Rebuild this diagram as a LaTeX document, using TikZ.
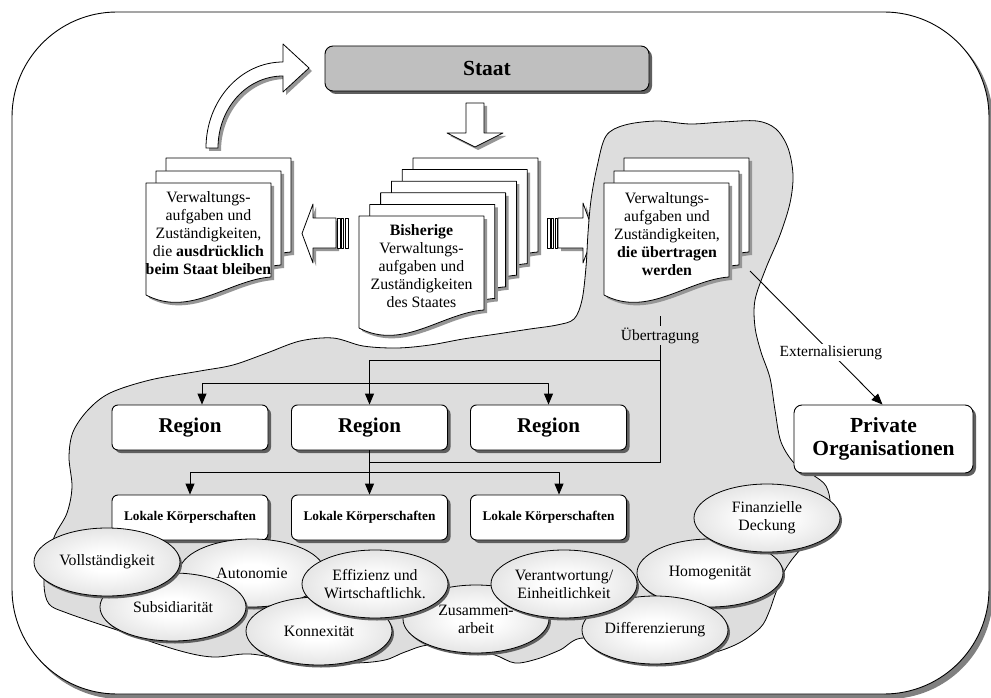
\documentclass[tikz,border=0pt]{standalone}
\usepackage{fontspec}
\setmainfont{Liberation Serif}
\usetikzlibrary{shapes.geometric,shadows,arrows.meta}

\definecolor{cloudgray}{RGB}{221,221,221}
\definecolor{staatgray}{RGB}{191,191,191}
\definecolor{shadowdark}{RGB}{95,95,95}
\definecolor{shadowmid}{RGB}{128,128,128}
\definecolor{shadowlight}{RGB}{150,150,150}
\definecolor{ellcenter}{RGB}{255,255,255}
\definecolor{ellmid}{RGB}{222,222,222}
\definecolor{elledge}{RGB}{162,162,162}
\pgfdeclareradialshading{ellshade}{\pgfpoint{0bp}{0bp}}{color(0bp)=(ellcenter); color(7bp)=(ellcenter); color(30bp)=(ellmid); color(50bp)=(elledge); color(100bp)=(elledge)}

\newcommand\docfont{\fontsize{15.8}{18}\selectfont}
\newcommand\ellfont{\fontsize{15.8}{18}\selectfont}
\newcommand\lblfont{\fontsize{15.5}{18}\selectfont}

% one sheet of a document stack: top-left corner (#1,#2), wavy lower edge
\newcommand\docpath[2]{(#1,#2) -- ++(125,0) -- ++(0,94) .. controls +(-42,3) and +(44,23) .. ++(-125,18) -- cycle}
\newcommand\docpage[2]{%
  \fill[shadowlight] \docpath{#1+3}{#2+3};
  \filldraw[fill=white,draw=black,line width=0.8pt] \docpath{#1}{#2};}

% block arrows
\newcommand\curvedarrowpath{(206,148) .. controls (206,100.5) and (240.5,62) .. (283,62) -- (283,44) -- (309,68) -- (283,92) -- (283,76) .. controls (247,76) and (218,108) .. (218,148) -- cycle}
\newcommand\downarrowpath{(466,103) -- (484,103) -- (484,133) -- (503,133) -- (475,147) -- (447,133) -- (466,133) -- cycle}
\newcommand\leftarrowpath{(336,218) -- (313,218) -- (313,204) -- (302,233.5) -- (313,263) -- (313,248) -- (336,248) -- cycle}
\newcommand\rightarrowpath{(558,218) -- (583,218) -- (583,203) -- (594,233.5) -- (583,263) -- (583,248) -- (558,248) -- cycle}

\tikzset{
  blockarrow/.style={fill=white,draw=black,line width=0.8pt},
  stripe/.style={fill=white,draw=black,line width=0.7pt},
  unitbox/.style={draw,fill=white,rounded corners=6pt,line width=0.9pt,
    minimum width=156pt,minimum height=45pt,inner sep=0pt,align=center,
    drop shadow={shadow xshift=3pt,shadow yshift=-3pt,fill=shadowdark,opacity=1}},
  regionbox/.style={unitbox,font=\fontsize{21}{24}\selectfont\bfseries},
  lkbox/.style={unitbox,font=\fontsize{13.3}{16}\selectfont\bfseries},
  principle/.style={ellipse,draw,line width=0.8pt,shade,shading=ellshade,
    minimum width=146pt,minimum height=68pt,inner sep=0pt,align=center,font=\ellfont,
    drop shadow={shadow xshift=2pt,shadow yshift=-2.5pt,fill=shadowdark,opacity=1}},
  doctext/.style={align=center,font=\docfont,inner sep=0pt},
  conn/.style={line width=0.9pt},
  arr/.style={conn,-{Triangle[width=9pt,length=11pt]}},
}

\begin{document}
\begin{tikzpicture}[x=1pt,y=-1pt,line join=round]
\useasboundingbox (0,0) rectangle (991,698);
\clip (0,0) rectangle (991,698);

% outer frame
\fill[shadowmid,rounded corners=105pt] (16,16) rectangle (993,699);
\filldraw[fill=white,draw=black,line width=0.9pt,rounded corners=105pt] (12,12) rectangle (989,694);

% Staat
\node[draw,fill=staatgray,rounded corners=8pt,line width=0.9pt,minimum width=324pt,minimum height=45pt,
  font=\fontsize{21.5}{24}\selectfont\bfseries,
  drop shadow={shadow xshift=3pt,shadow yshift=-3pt,fill=shadowdark,opacity=1}] (staat) at (487,68.5) {Staat};

% block arrows
\fill[shadowlight,shift={(3,3)}] \curvedarrowpath;
\filldraw[blockarrow] \curvedarrowpath;
\fill[shadowlight,shift={(3,3)}] \downarrowpath;
\filldraw[blockarrow] \downarrowpath;
\fill[shadowlight,shift={(3,3)}] \leftarrowpath;
\filldraw[blockarrow] \leftarrowpath;
\filldraw[stripe] (337.5,218) rectangle (340,248);
\filldraw[stripe] (341.5,218) rectangle (343.5,248);
\filldraw[stripe] (345,218) rectangle (348,248);
\fill[shadowlight,shift={(3,3)}] \rightarrowpath;
\filldraw[blockarrow] \rightarrowpath;
\filldraw[stripe] (547,218) rectangle (550,248);
\filldraw[stripe] (551.5,218) rectangle (553.5,248);
\filldraw[stripe] (555,218) rectangle (557.5,248);

% left stack: tasks that stay with the state
\docpage{166}{158}
\docpage{156}{171}
\docpage{146}{183}
\node[doctext] (bleiben) at (208.5,233) {Verwaltungs-\\aufgaben und\\Zuständigkeiten,\\die \textbf{ausdrücklich}\\\textbf{beim Staat bleiben}};

% middle stack: existing tasks of the state
\docpage{413}{158}
\docpage{402.2}{169.6}
\docpage{391.4}{181.2}
\docpage{380.6}{192.8}
\docpage{369.8}{204.4}
\docpage{359}{216}
\node[doctext] (bisher) at (421.5,266) {\textbf{Bisherige}\\Verwaltungs-\\aufgaben und\\Zuständigkeiten\\des Staates};

% grey area of the transferred competences
\filldraw[fill=cloudgray,draw=black,line width=0.8pt] plot[smooth cycle,tension=0.55] coordinates {
 (606,136) (625,125) (657,121) (690,124) (723,122) (757,121) (776,129) (788,148) (793,175)
 (790,203) (780,235) (766,268) (755,300) (755,327) (761,352) (770,378) (775,410) (781,442)
 (795,464) (813,475) (826,486) (830,505) (822,530) (800,550) (785,570) (775,595) (769,612)
 (760,628) (735,645) (700,655) (640,655) (585,638) (560,650) (537,659) (515,663) (495,655)
 (470,650) (430,645) (405,652) (385,660) (355,663) (300,662) (250,654) (213,657) (177,650)
 (117,630) (67,613) (49,604) (44,585) (47,560) (55,535) (67,513) (72,487) (69,457) (73,432)
 (88,410) (110,393) (150,380) (200,371) (233,365) (267,353) (300,341) (333,338) (363,346)
 (397,348) (430,345) (463,339) (497,334) (530,329) (557,325) (574,319) (582,300) (586,267)
 (588,233) (591,200) (597,167)};

% right stack: tasks that are transferred
\docpage{624}{158}
\docpage{614}{171}
\docpage{604}{183}
\node[doctext] (uebertragen) at (667,234) {Verwaltungs-\\aufgaben und\\Zuständigkeiten,\\\textbf{die übertragen}\\\textbf{werden}};

% regions and local authorities
\node[regionbox] (reg1) at (190,427.5) {Region};
\node[regionbox] (reg2) at (369.5,427.5) {Region};
\node[regionbox] (reg3) at (548.5,427.5) {Region};
\node[lkbox] (lk1) at (190,517.5) {Lokale Körperschaften};
\node[lkbox] (lk2) at (369.5,517.5) {Lokale Körperschaften};
\node[lkbox] (lk3) at (548.5,517.5) {Lokale Körperschaften};

% private organisations
\node[unitbox,rounded corners=8pt,minimum width=179pt,minimum height=68pt,
  font=\fontsize{21.5}{23}\selectfont\bfseries] (po) at (883.5,439) {Private\\Organisationen};

% transfer connectors
\node[font=\lblfont,inner sep=1.5pt,anchor=base] (ueb) at (660,340) {Übertragung};
\coordinate (stub) at (660,316);
\draw[conn] (stub) -- (ueb.north);
\coordinate (j1) at (369.5,360);
\draw[arr] (ueb.south) |- (j1) -- (reg2.north);
\coordinate (j2) at (369.5,383);
\draw[arr] (j2) -| ([xshift=12pt]reg1.north);
\draw[arr] (j2) -| (reg3.north);
\draw[arr] (reg2.south) -- (lk2.north);
\coordinate (j3) at (369.5,462);
\draw[conn] (ueb.south) |- (j3);
\coordinate (j4) at (369.5,472);
\draw[arr] (j4) -| (lk1.north);
\draw[arr] (j4) -| ([xshift=10.5pt]lk3.north);

% externalisation
\coordinate (ext) at (750,271);
\draw[arr] (ext) -- node[pos=0.61,fill=white,inner sep=1pt,font=\lblfont] (extlbl) {Externalisierung} ([xshift=-1pt]po.north);

% guiding principles
\node[principle] (auto) at (252,573) {Autonomie};
\node[principle] (subs) at (173,607) {Subsidiarität};
\node[principle] (voll) at (107,562) {Vollständigkeit};
\node[principle] (konn) at (319,631) {Konnexität};
\node[principle] (zus) at (476,619) {Zusammen-\\arbeit};
\node[principle] (eff) at (375,584) {Effizienz und\\Wirtschaftlichk.};
\node[principle] (hom) at (710,573) {Homogenität};
\node[principle] (diff) at (655,630) {Differenzierung};
\node[principle] (ver) at (564,584) {Verantwortung/\\Einheitlichkeit};
\node[principle] (fin) at (767,518) {Finanzielle\\Deckung};
\end{tikzpicture}
\end{document}
